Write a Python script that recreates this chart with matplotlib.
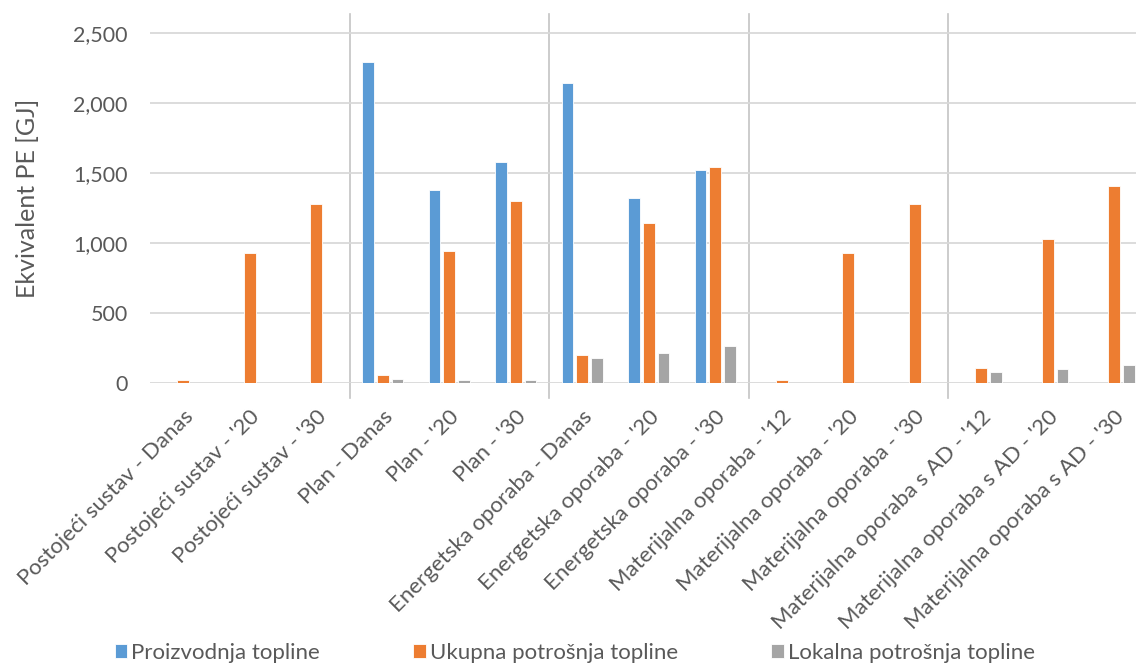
import numpy as np
import matplotlib.pyplot as plt

plt.rcParams['font.family'] = ['Lato', 'DejaVu Sans']

# Categories and series
categories = [
    "Postojeći sustav - Danas", "Postojeći sustav - '20", "Postojeći sustav - '30",
    "Plan - Danas", "Plan - '20", "Plan - '30",
    "Energetska oporaba - Danas", "Energetska oporaba - '20", "Energetska oporaba - '30",
    "Materijalna oporaba - '12", "Materijalna oporaba - '20", "Materijalna oporaba - '30",
    "Materijalna oporaba s AD - '12", "Materijalna oporaba s AD - '20", "Materijalna oporaba s AD - '30",
]
proizvodnja = [0, 0, 0, 2296, 1380, 1576, 2146, 1319, 1519, 0, 0, 0, 0, 0, 0]
ukupna = [24, 927, 1278, 54, 945, 1300, 202, 1141, 1542, 24, 927, 1278, 104, 1029, 1407]
lokalna = [0, 0, 0, 31, 19, 24, 178, 214, 264, 0, 0, 0, 81, 102, 128]
series_names = ["Proizvodnja topline", "Ukupna potrošnja topline", "Lokalna potrošnja topline"]
colors = ["#5B9BD5", "#ED7D31", "#A5A5A5"]
group_edges = [2.5, 5.5, 8.5, 11.5]

W, H = 1136, 666
fig = plt.figure(figsize=(W / 100, H / 100), dpi=100)
ax = fig.add_axes([150 / W, (H - 383) / H, 15 * 66.5 / W, 369 / H])

x = np.arange(len(categories))
step, width = 0.222, 0.175
for i, (vals, name, c) in enumerate(zip([proizvodnja, ukupna, lokalna], series_names, colors)):
    ax.bar(x + (i - 1) * step, vals, width, color=c, edgecolor='white',
           linewidth=0.6, label=name, zorder=3)

ax.set_xlim(-0.5, len(categories) - 0.5)
ax.set_ylim(0, 2636)
ax.set_yticks([0, 500, 1000, 1500, 2000, 2500])
ax.yaxis.set_major_formatter(plt.FuncFormatter(lambda v, p: f"{int(v):,}"))
ax.grid(axis='y', color='#D9D9D9', linewidth=1.3, zorder=0)
for s in ax.spines.values():
    s.set_visible(False)
ax.tick_params(axis='both', length=0, labelsize=15.5, labelcolor='#595959')
ax.tick_params(axis='y', pad=16)

# group separators
trans = ax.get_xaxis_transform()
for e in group_edges:
    ax.plot([e, e], [-15 / 369, 1.0], transform=trans, color='#C4C4C4',
            linewidth=1.2, clip_on=False, zorder=1)

ax.set_xticks(x)
ax.set_xticklabels(categories, rotation=45, ha='right', rotation_mode='anchor')
ax.tick_params(axis='x', pad=17, labelsize=16)

ax.set_ylabel("Ekvivalent PE [GJ]", fontsize=18, color='#595959', labelpad=25)

fig.legend(loc='center', bbox_to_anchor=(0.506, 1 - 653 / H), ncol=3, frameon=False,
           fontsize=16, labelcolor='#595959', handlelength=0.55, handleheight=0.55,
           handletextpad=0.2, columnspacing=4.2)

fig.savefig("out.png", dpi=100)
